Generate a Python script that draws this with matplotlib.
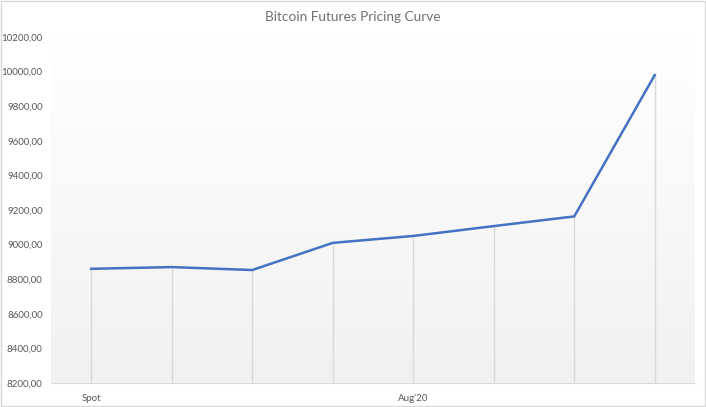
import numpy as np
import matplotlib
matplotlib.use('Agg')
import matplotlib.pyplot as plt
from matplotlib.ticker import FuncFormatter

plt.rcParams['font.family'] = ['Lato', 'DejaVu Sans']

# --- data ---
categories = ['Spot', '', '', '', "Aug'20", '', '', '']
prices = [8860, 8870, 8853, 9010, 9050, 9107, 9163, 9980]
y_ticks = [8200, 8400, 8600, 8800, 9000, 9200, 9400, 9600, 9800, 10000, 10200]

fig = plt.figure(figsize=(7.06, 4.07), dpi=100)
ax = fig.add_axes([51 / 706, 24 / 407, 644 / 706, 346 / 407])

# light gradient background (white on top -> light grey at the bottom)
grad = np.linspace(1.0, 0.0, 256).reshape(-1, 1)
ax.imshow(grad, extent=[0, 1, 0, 1], transform=ax.transAxes, aspect='auto',
          cmap=matplotlib.colors.LinearSegmentedColormap.from_list('g', ['#f1f1f1', '#ffffff']),
          zorder=0)

x = np.arange(len(prices))
# drop lines
ax.vlines(x, y_ticks[0], prices, color='#d9d9d9', lw=1, zorder=1)
ax.plot(x, prices, color='#4472c4', lw=1.8, zorder=3, solid_joinstyle='round')

ax.set_xlim(-0.5, len(prices) - 0.5)
ax.set_ylim(y_ticks[0], y_ticks[-1])
ax.set_yticks(y_ticks)
ax.yaxis.set_major_formatter(FuncFormatter(lambda v, p: f'{v:.2f}'.replace('.', ',')))
ax.set_xticks(x)
ax.set_xticklabels(categories)

for s in ['top', 'right', 'left']:
    ax.spines[s].set_visible(False)
ax.spines['bottom'].set_color('#d9d9d9')
ax.tick_params(axis='both', length=0, labelsize=7, colors='#595959')
ax.tick_params(axis='x', pad=8)
ax.tick_params(axis='y', pad=6)

fig.text(0.5, 1 - 17 / 407, 'Bitcoin Futures Pricing Curve', ha='center', va='center',
         fontsize=9.8, color='#707070')

# outer chart border
fig.patches.append(plt.Rectangle((0.001, 0.002), 0.997, 0.996, transform=fig.transFigure,
                                 fill=False, edgecolor='#d9d9d9', lw=1))

fig.savefig('out.png', dpi=100)
